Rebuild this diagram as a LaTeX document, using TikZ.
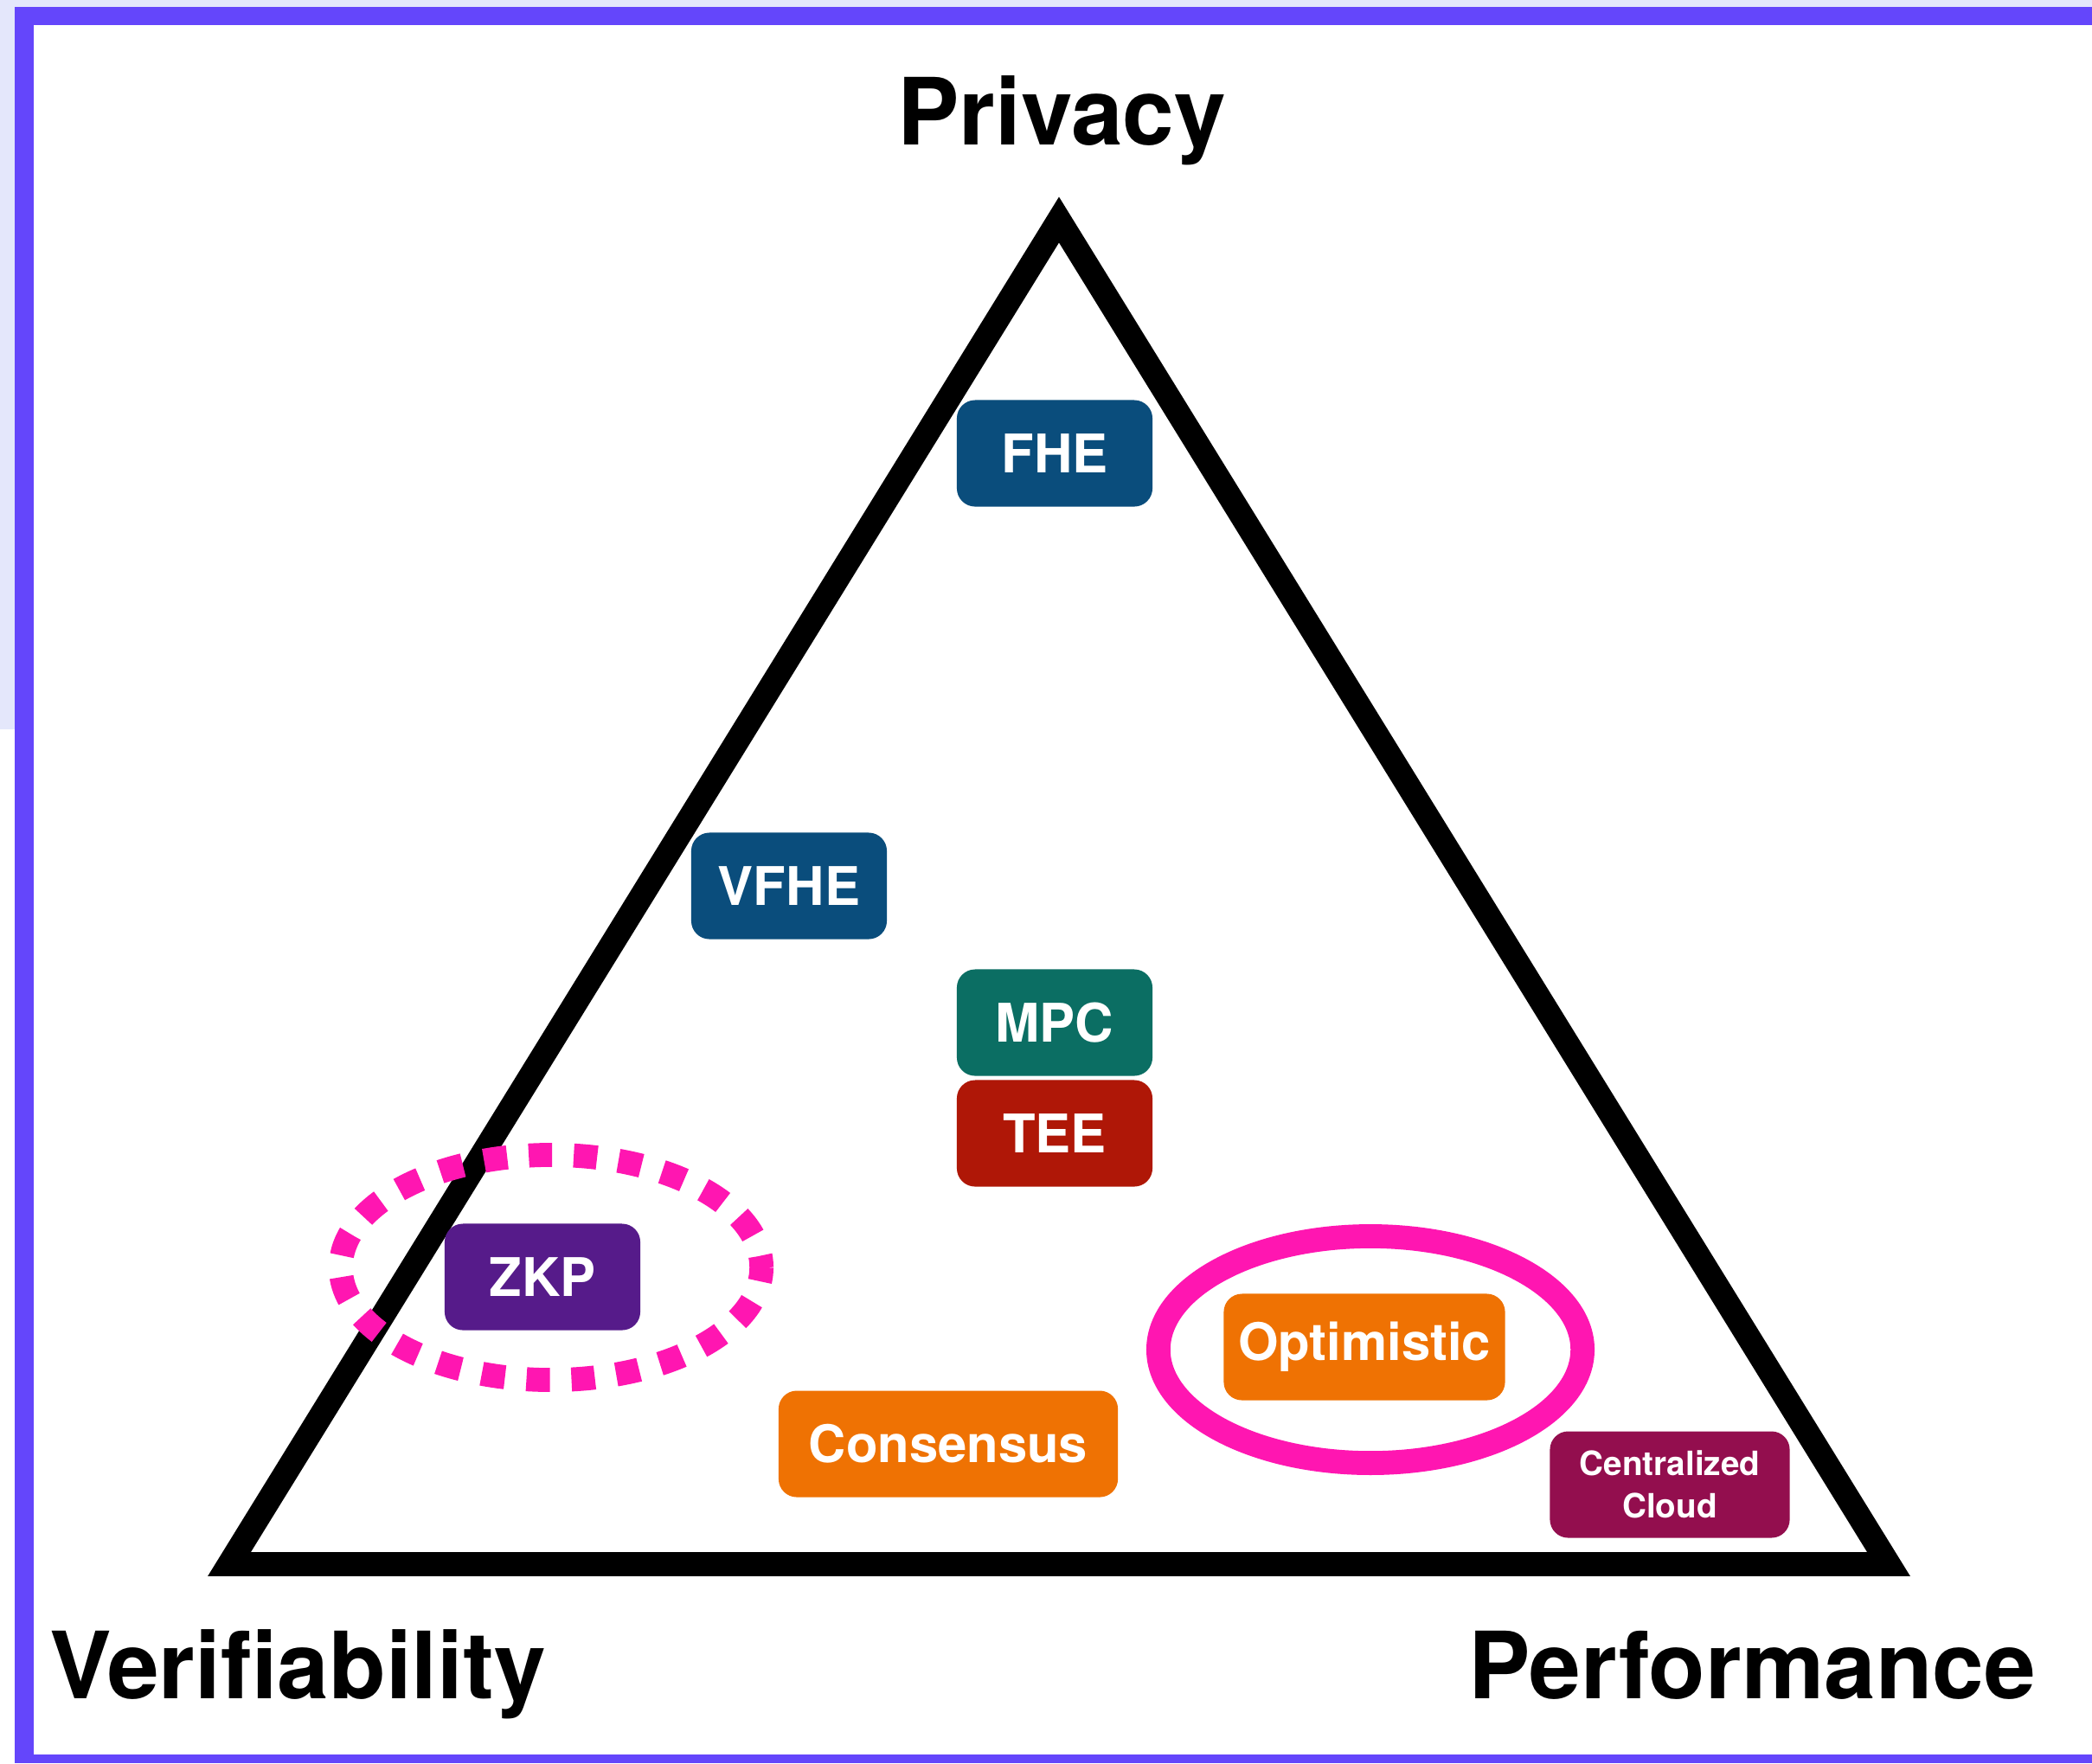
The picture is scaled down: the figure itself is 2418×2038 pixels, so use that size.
\documentclass[tikz,border=0pt]{standalone}
\usepackage{fontspec}
\setmainfont{TeX Gyre Heros}
\definecolor{lavender}{HTML}{E4E7FB}
\definecolor{framepurple}{HTML}{6446FB}
\definecolor{fheblue}{HTML}{0A4D7C}
\definecolor{mpcteal}{HTML}{0B6E63}
\definecolor{teered}{HTML}{AF1707}
\definecolor{zkppurple}{HTML}{561B8A}
\definecolor{optorange}{HTML}{EF7203}
\definecolor{cloudred}{HTML}{930E4E}
\definecolor{hotpink}{HTML}{FF16B1}

\begin{document}
\begin{tikzpicture}[x=0.01cm,y=-0.01cm,line join=miter,
  techbox/.style={rounded corners=6pt,text=white,inner sep=0pt,align=center,
    minimum width=2.26cm,minimum height=1.23cm,font=\fontsize{17.5}{20}\selectfont\bfseries},
  cornerlabel/.style={anchor=base,font=\fontsize{30.5}{36}\selectfont\bfseries},
  ring/.style={draw=hotpink,line width=7.9pt}]
\useasboundingbox (0,0) rectangle (2418,2038);
% page and frame
\fill[white] (0,0) rectangle (2418,2038);
\fill[lavender] (0,0) rectangle (2418,8);
\fill[lavender] (0,0) rectangle (17,843);
\fill[framepurple] (17,8) rectangle (2418,29);
\fill[framepurple] (17,8) rectangle (39,2038);
\fill[framepurple] (17,2028) rectangle (2418,2038);
% the triangle
\coordinate (top) at (1224,254);
\coordinate (left) at (265,1808);
\coordinate (right) at (2183,1808);
\draw[line width=7.9pt] (top) -- (left) -- (right) -- cycle;
% corners
\node[cornerlabel] (priv) at (1227,167) {Privacy};
\node[cornerlabel] (verif) at (344,1963) {Verifiability};
\node[cornerlabel] (perf) at (2025,1963) {Performance};
% techniques
\node[techbox,fill=fheblue] (fhe) at (1219,524) {FHE};
\node[techbox,fill=fheblue] (vfhe) at (912,1024) {VFHE};
\node[techbox,fill=mpcteal] (mpc) at (1219,1182) {MPC};
\node[techbox,fill=teered] (tee) at (1219,1310) {TEE};
\node[techbox,fill=zkppurple] (zkp) at (627,1476) {ZKP};
\node[techbox,fill=optorange,minimum width=3.92cm,font=\fontsize{17}{20}\selectfont\bfseries] (cons) at (1096,1669) {Consensus};
\node[techbox,fill=optorange,minimum width=3.25cm,font=\fontsize{17}{20}\selectfont\bfseries] (opt) at (1577,1557) {Optimistic};
\node[techbox,fill=cloudred,minimum width=2.77cm,font=\fontsize{11}{14}\selectfont\bfseries] (cloud) at (1930,1716) {Centralized\\Cloud};
% highlights
\draw[ring,dash pattern=on 7.7pt off 7.1pt,dash phase=3.85pt]
  ([xshift=0.1cm,yshift=0.11cm]zkp.center) ellipse [x radius=2.43cm,y radius=1.3cm];
\draw[ring] ([xshift=0.07cm,yshift=-0.03cm]opt.center) ellipse [x radius=2.45cm,y radius=1.31cm];
\end{tikzpicture}
\end{document}
